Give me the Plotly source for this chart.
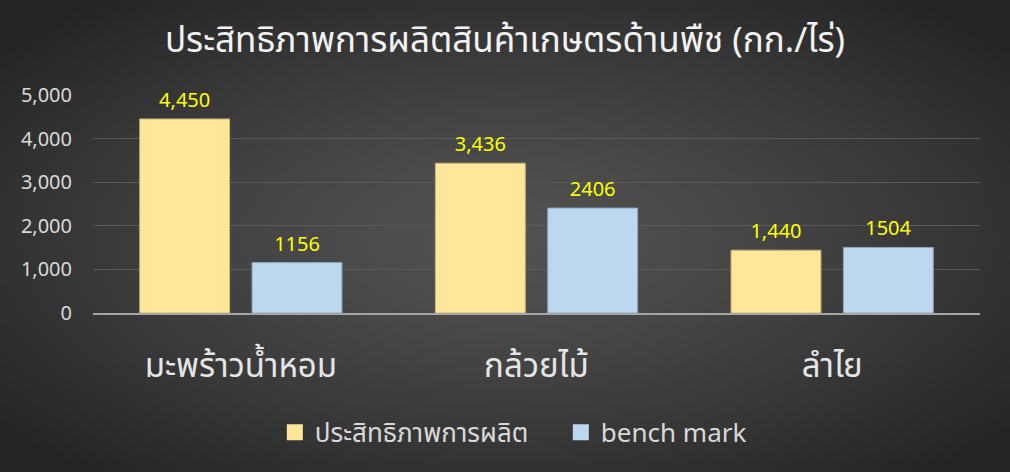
import plotly.graph_objects as go
import zlib, struct, base64, math

categories = ["มะพร้าวน้ำหอม", "กล้วยไม้", "ลำไย"]
efficiency = [4450, 3436, 1440]
benchmark = [1156, 2406, 1504]
efficiency_labels = ["4,450", "3,436", "1,440"]
benchmark_labels = ["1156", "2406", "1504"]
series_names = ["ประสิทธิภาพการผลิต", "bench mark"]
series_colors = ["#FFE699", "#BDD7EE"]
title_text = "ประสิทธิภาพการผลิตสินค้าเกษตรด้านพืช (กก./ไร่)"

# radial gradient background as PNG data URI
W, H = 202, 94
rows = []
for j in range(H):
    row = bytearray([0])
    for i in range(W):
        dx = (i - W / 2) / (W / 2)
        dy = (j - H / 2) / (H / 2)
        d = min(1.0, math.sqrt(dx * dx + dy * dy) / 1.3)
        v = int(round(0x52 - (0x52 - 0x24) * d ** 1.3))
        row += bytes([v, v, v])
    rows.append(bytes(row))
raw = b"".join(rows)
def chunk(t, data):
    c = struct.pack(">I", len(data)) + t + data
    return c + struct.pack(">I", zlib.crc32(t + data) & 0xffffffff)
png = b"\x89PNG\r\n\x1a\n" + chunk(b"IHDR", struct.pack(">IIBBBBB", W, H, 8, 2, 0, 0, 0)) \
    + chunk(b"IDAT", zlib.compress(raw, 9)) + chunk(b"IEND", b"")
bg = "data:image/png;base64," + base64.b64encode(png).decode()

thai_font = "Leelawadee UI, Tahoma, Noto Sans Thai, Noto Sans, sans-serif"

fig = go.Figure()
fig.add_trace(go.Bar(
    x=categories, y=efficiency, name=series_names[0], showlegend=False,
    marker=dict(color=series_colors[0], line=dict(color="#c8b27a", width=1)),
    text=efficiency_labels, texttemplate="%{text}", textposition="outside",
    textfont=dict(color="#FFFF00", size=20), cliponaxis=False,
))
fig.add_trace(go.Bar(
    x=categories, y=benchmark, name=series_names[1], showlegend=False,
    marker=dict(color=series_colors[1], line=dict(color="#8fa6bb", width=1)),
    text=benchmark_labels, texttemplate="%{text}", textposition="outside",
    textfont=dict(color="#FFFF00", size=20), cliponaxis=False,
))
for name, col in zip(series_names, series_colors):
    fig.add_trace(go.Scatter(
        x=[None], y=[None], mode="markers", name=name,
        marker=dict(symbol="square", size=19, color=col), showlegend=True,
    ))

fig.update_layout(
    width=1010, height=472,
    margin=dict(l=93, r=30, t=95, b=159),
    paper_bgcolor="#3a3a3a", plot_bgcolor="rgba(0,0,0,0)",
    images=[dict(source=bg, xref="paper", yref="paper", x=-93/887, y=1 + 95/218,
                 sizex=1010/887, sizey=472/218, sizing="stretch", layer="below",
                 xanchor="left", yanchor="top")],
    title=dict(text=title_text, x=0.5, xanchor="center", y=0.915, yanchor="middle",
               font=dict(size=35, color="#F2F2F2", family=thai_font)),
    barmode="group", bargap=0.24, bargroupgap=0.2,
    font=dict(family=thai_font, color="#D9D9D9"),
    legend=dict(orientation="h", x=0.205, xanchor="left", y=-0.44, yanchor="top",
                font=dict(size=26, color="#D9D9D9"), bgcolor="rgba(0,0,0,0)",
                traceorder="normal", itemsizing="trace", entrywidth=241),
    showlegend=True,
)
fig.update_yaxes(range=[0, 5000], dtick=1000, tickformat=",", showgrid=True,
                 gridcolor="#595959", gridwidth=1, zeroline=False,
                 tickfont=dict(size=20, color="#D9D9D9"), ticklabelstandoff=20,
                 showline=False)
fig.update_xaxes(showline=True, linecolor="#A6A6A6", linewidth=2,
                 tickfont=dict(size=33, color="#E6E6E6"), ticklabelstandoff=22)

fig.write_html("out.html", config={"displayModeBar": False},
               post_script="document.body.style.margin='0';document.body.style.overflow='hidden';")
